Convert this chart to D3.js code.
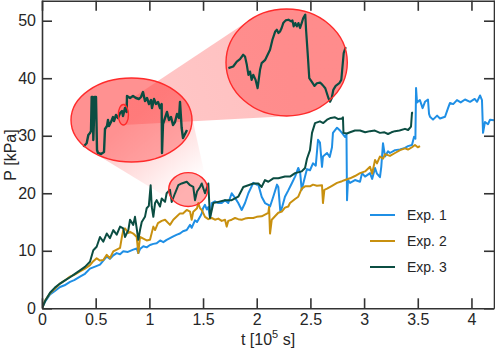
<!DOCTYPE html>
<html><head><meta charset="utf-8">
<script src="https://cdn.jsdelivr.net/npm/d3@7"></script>
<style>
body{margin:0;background:#fff}
text{font-family:"Liberation Sans",Arial,sans-serif;fill:#262626}
</style>
</head><body>
<svg id="c" width="495" height="350"></svg>
<script>
// ---------------- data ----------------
const xTicks = [0, 0.5, 1, 1.5, 2, 2.5, 3, 3.5, 4];
const xTickLabels = ["0", "0.5", "1", "1.5", "2", "2.5", "3", "3.5", "4"];
const yTicks = [0, 10, 20, 30, 40, 50];
const yTickLabels = ["0", "10", "20", "30", "40", "50"];
const seriesNames = ["Exp. 1", "Exp. 2", "Exp. 3"];
const seriesColors = ["#1f8fe5", "#c8900f", "#0b4d42"];

// [t (10^5 s), P (kPa)]
const exp1 = [[0,0],[0.03,1.2],[0.075,2.4],[0.12,3.0],[0.168,3.7],[0.21,4.0],[0.261,4.6],[0.30,4.9],[0.354,5.5],[0.40,6.0],[0.447,6.9],[0.50,7.3],[0.54,7.6],[0.571,8.3],[0.603,9.0],[0.633,8.6],[0.664,9.2],[0.696,9.6],[0.727,9.4],[0.757,9.9],[0.80,9.8],[0.85,10.2],[0.882,10.4],[0.897,9.6],[0.913,10.3],[0.944,10.8],[0.975,10.6],[1.006,11.0],[1.037,11.2],[1.068,11.3],[1.10,11.8],[1.13,11.5],[1.161,11.9],[1.192,12.2],[1.223,12.5],[1.257,12.8],[1.285,13.0],[1.313,13.4],[1.348,13.6],[1.379,14.5],[1.394,14.0],[1.425,15.3],[1.444,15.0],[1.472,15.9],[1.488,16.5],[1.50,17.4],[1.518,18.0],[1.535,17.2],[1.549,17.6],[1.565,15.7],[1.581,18.3],[1.611,18.6],[1.642,18.3],[1.674,18.3],[1.705,18.8],[1.735,18.3],[1.767,20.0],[1.798,19.2],[1.828,18.3],[1.86,17.1],[1.891,18.3],[1.922,20.0],[1.968,21.8],[2.0,21.5],[2.015,21.5],[2.046,19.4],[2.077,18.3],[2.108,18.0],[2.124,17.7],[2.154,19.4],[2.189,21.5],[2.201,21.1],[2.22,16.8],[2.235,17.5],[2.263,19.4],[2.294,20.5],[2.326,21.7],[2.357,22.9],[2.387,24.4],[2.405,23.5],[2.419,20.6],[2.45,22.9],[2.468,24.2],[2.496,24.0],[2.524,25.2],[2.55,24.8],[2.571,29.3],[2.589,28.8],[2.608,24.6],[2.617,26.4],[2.655,27.0],[2.68,26.3],[2.701,28.0],[2.71,30.5],[2.748,31.4],[2.776,30.9],[2.794,30.5],[2.822,29.8],[2.836,30.2],[2.841,18.8],[2.85,22.3],[2.869,21.8],[2.915,22.3],[2.962,22.0],[2.981,23.5],[3.009,22.9],[3.055,23.5],[3.075,22.5],[3.102,24.4],[3.12,23.4],[3.148,22.8],[3.16,24.6],[3.176,28.7],[3.195,26.4],[3.223,27.3],[3.241,27.0],[3.288,27.5],[3.335,27.6],[3.381,27.9],[3.409,28.2],[3.446,28.4],[3.465,29.8],[3.478,29.5],[3.484,38.3],[3.493,35.8],[3.52,36.2],[3.545,34.8],[3.567,35.9],[3.595,36.3],[3.605,33.8],[3.614,33.3],[3.642,32.8],[3.68,33.5],[3.707,33.0],[3.754,33.3],[3.782,34.8],[3.80,35.7],[3.83,35.5],[3.865,36.2],[3.90,35.8],[3.94,36.3],[3.987,35.9],[4.03,36.4],[4.052,35.9],[4.08,37.0],[4.098,36.2],[4.108,30.5],[4.126,32.4],[4.154,32.0],[4.173,32.8],[4.21,32.7]];

const exp2 = [[0,0],[0.03,1.4],[0.075,2.6],[0.12,3.4],[0.168,4.3],[0.21,4.8],[0.261,5.5],[0.30,5.8],[0.354,6.4],[0.40,6.9],[0.447,7.5],[0.478,8.2],[0.509,8.7],[0.54,8.3],[0.571,8.4],[0.603,9.3],[0.633,8.7],[0.664,9.9],[0.696,10.2],[0.727,10.5],[0.745,12.5],[0.757,13.6],[0.773,13.9],[0.804,13.1],[0.82,13.3],[0.85,13.0],[0.882,12.4],[0.897,9.6],[0.913,12.4],[0.944,12.1],[0.975,11.8],[1.006,11.9],[1.037,14.2],[1.053,13.6],[1.08,14.8],[1.115,15.2],[1.146,15.4],[1.192,14.5],[1.223,15.4],[1.257,16.0],[1.285,16.5],[1.313,16.5],[1.348,17.1],[1.379,16.8],[1.394,15.4],[1.409,16.8],[1.444,17.4],[1.456,18.3],[1.472,17.4],[1.488,17.1],[1.518,15.9],[1.549,15.5],[1.581,15.7],[1.611,15.4],[1.642,15.6],[1.674,15.2],[1.705,15.4],[1.72,14.2],[1.735,15.2],[1.767,15.4],[1.798,15.7],[1.828,15.5],[1.86,15.4],[1.891,15.6],[1.922,15.7],[1.968,15.7],[2.0,15.9],[2.046,16.0],[2.077,16.3],[2.108,16.6],[2.115,17.6],[2.124,13.0],[2.14,15.4],[2.17,16.0],[2.201,16.6],[2.233,16.8],[2.263,17.5],[2.294,17.7],[2.31,18.3],[2.357,19.0],[2.387,19.4],[2.419,20.8],[2.45,21.2],[2.496,21.2],[2.524,21.5],[2.56,21.3],[2.608,21.4],[2.617,18.3],[2.63,20.6],[2.655,20.8],[2.701,21.3],[2.748,21.8],[2.794,22.1],[2.822,22.3],[2.869,22.6],[2.915,23.0],[2.962,23.5],[3.009,23.8],[3.055,24.6],[3.075,23.4],[3.102,25.8],[3.12,25.2],[3.148,26.4],[3.176,26.0],[3.195,26.8],[3.241,26.5],[3.288,27.0],[3.335,27.5],[3.381,27.8],[3.409,27.6],[3.446,28.0],[3.474,28.4],[3.50,28.0],[3.521,28.2]];

const exp3 = [[0,0],[0.03,1.3],[0.075,2.7],[0.12,3.6],[0.168,4.3],[0.21,4.8],[0.261,5.4],[0.30,5.9],[0.354,6.6],[0.40,7.2],[0.447,8.1],[0.478,10.1],[0.509,10.7],[0.54,12.4],[0.571,11.6],[0.603,13.0],[0.633,12.2],[0.664,13.6],[0.696,12.8],[0.727,14.2],[0.757,13.9],[0.773,12.4],[0.804,13.6],[0.82,15.4],[0.85,14.5],[0.866,15.9],[0.882,13.9],[0.897,11.9],[0.913,13.6],[0.929,15.0],[0.959,15.9],[0.975,17.4],[0.995,17.8],[1.012,21.4],[1.022,17.7],[1.037,15.9],[1.053,18.3],[1.068,18.8],[1.099,17.7],[1.115,19.1],[1.146,18.5],[1.161,20.0],[1.192,20.6],[1.208,18.5],[1.239,20.0],[1.27,21.4],[1.301,21.7],[1.348,22.0],[1.379,21.4],[1.409,21.1],[1.425,18.8],[1.444,20.3],[1.472,21.1],[1.488,21.7],[1.518,20.0],[1.549,21.7],[1.565,15.7],[1.596,18.3],[1.642,18.5],[1.705,18.8],[1.767,18.8],[1.828,19.4],[1.875,21.1],[1.922,21.4],[1.968,21.7],[2.015,21.7],[2.046,21.1],[2.077,22.3],[2.108,22.0],[2.154,22.6],[2.201,22.6],[2.263,22.9],[2.31,22.9],[2.357,23.5],[2.419,23.8],[2.45,24.4],[2.468,26.0],[2.496,27.5],[2.515,30.5],[2.543,32.2],[2.589,32.5],[2.62,32.2],[2.655,32.8],[2.69,33.1],[2.729,33.2],[2.76,32.9],[2.794,33.0],[2.803,33.2],[2.808,30.5],[2.84,30.4],[2.869,30.6],[2.915,30.9],[2.962,30.9],[3.01,30.6],[3.055,30.8],[3.10,30.9],[3.148,30.5],[3.19,30.6],[3.223,30.3],[3.255,30.6],[3.288,30.8],[3.33,30.9],[3.381,31.2],[3.41,31.0],[3.437,31.6],[3.446,34.0],[3.456,34.0]];

// zoom windows (data units) and inset traces (Exp. 3, finer detail)
const zoomWindow1T = [1.18, 1.543], zoomWindow1P = [17.7, 23.58];
const zoomWindow2T = [1.322, 1.3523], zoomWindow2P = [20.29, 21.73];

const inset1 = [[1.217,18.77],[1.227,19.01],[1.232,19.59],[1.237,19.73],[1.24,19.87],[1.242,22.25],[1.245,22.25],[1.247,19.24],[1.251,22.25],[1.255,22.25],[1.258,18.54],[1.261,18.33],[1.27,18.26],[1.279,18.4],[1.282,20.01],[1.288,20.22],[1.291,20.64],[1.294,20.22],[1.30,20.5],[1.306,20.85],[1.309,20.57],[1.315,20.99],[1.321,20.78],[1.327,21.13],[1.333,21.27],[1.336,20.92],[1.342,21.48],[1.347,21.2],[1.348,22.32],[1.357,22.18],[1.366,22.32],[1.375,22.18],[1.384,22.11],[1.39,22.25],[1.396,22.6],[1.402,21.97],[1.408,22.18],[1.414,21.76],[1.42,22.04],[1.423,21.48],[1.429,22.11],[1.435,21.76],[1.441,21.9],[1.447,21.48],[1.452,21.76],[1.453,18.33],[1.456,20.36],[1.462,20.78],[1.468,21.2],[1.474,20.64],[1.48,20.85],[1.486,20.29],[1.492,20.5],[1.498,21.06],[1.504,20.78],[1.507,21.9],[1.512,20.08],[1.516,19.38],[1.522,19.66],[1.528,19.94]];

const inset2 = [[1.3226,20.934],[1.3238,20.956],[1.3247,21.023],[1.3255,21.055],[1.3263,21.114],[1.32675,21.091],[1.3272,20.979],[1.3276,20.844],[1.328,20.888],[1.3284,20.776],[1.3288,20.844],[1.3294,20.776],[1.3299,20.664],[1.3305,20.911],[1.3309,21.001],[1.3318,21.046],[1.3324,21.114],[1.333,21.181],[1.3336,21.316],[1.3343,21.428],[1.3347,21.451],[1.3351,21.406],[1.3355,21.428],[1.3359,21.474],[1.3363,21.541],[1.3369,21.577],[1.3376,21.586],[1.3383,21.563],[1.3386,21.577],[1.3389,21.496],[1.3393,21.541],[1.3397,21.496],[1.3401,21.541],[1.3405,21.474],[1.3409,21.541],[1.3413,21.609],[1.3418,21.654],[1.342,21.451],[1.3424,21.136],[1.3428,20.799],[1.3434,20.753],[1.3441,20.695],[1.3447,20.731],[1.3455,20.74],[1.3461,20.709],[1.3468,20.664],[1.3472,20.596],[1.3476,20.529],[1.348,20.483],[1.3484,20.529],[1.3488,20.641],[1.3494,20.695],[1.3503,20.731],[1.3508,20.776],[1.3511,20.956],[1.3514,21.136],[1.3519,21.217]];

// ---------------- drawing ----------------
const svg = d3.select("#c");
const L = 42, R = 494, T = 0, B = 308.3;
const x = d3.scaleLinear().domain([0, 4.21]).range([L, R]);
const y = d3.scaleLinear().domain([0, 53.6]).range([B, T]);

// inset boxes (pixel layout)
const box1 = {x0: 71, x1: 192, y0: 78, y1: 162};
const box2 = {x0: 226, x1: 347.3, y0: 9, y1: 116};
const mx = d3.scaleLinear().domain(zoomWindow1T).range([box1.x0, box1.x1]);
const my = d3.scaleLinear().domain(zoomWindow1P).range([box1.y1, box1.y0]);
const bx = d3.scaleLinear().domain(zoomWindow2T).range([box2.x0, box2.x1]);
const by = d3.scaleLinear().domain(zoomWindow2P).range([box2.y1, box2.y0]);

function ell(x0, x1, y0, y1) {
  return {cx: (x0 + x1) / 2, cy: (y0 + y1) / 2, rx: Math.abs(x1 - x0) / 2, ry: Math.abs(y1 - y0) / 2};
}
const eSmall = ell(x(zoomWindow1T[0]), x(zoomWindow1T[1]), y(zoomWindow1P[0]), y(zoomWindow1P[1]));
const eMid = ell(box1.x0, box1.x1, box1.y0, box1.y1);
const eTiny = ell(mx(zoomWindow2T[0]), mx(zoomWindow2T[1]), my(zoomWindow2P[0]), my(zoomWindow2P[1]));
const eBig = ell(box2.x0, box2.x1, box2.y0, box2.y1);

function ellPts(e) {
  return d3.range(96).map(i => {
    const a = i / 96 * 2 * Math.PI;
    return [e.cx + e.rx * Math.cos(a), e.cy + e.ry * Math.sin(a)];
  });
}
function hullPath(a, b) {
  const h = d3.polygonHull(ellPts(a).concat(ellPts(b)));
  return "M" + h.map(p => p.join(",")).join("L") + "Z";
}

const defs = svg.append("defs");
defs.append("clipPath").attr("id", "plotclip").append("rect")
  .attr("x", L).attr("y", T).attr("width", R - L).attr("height", B - T);

function grad(id, a, b, o0, o1) {
  const g = defs.append("linearGradient").attr("id", id).attr("gradientUnits", "userSpaceOnUse")
    .attr("x1", a.cx).attr("y1", a.cy).attr("x2", b.cx).attr("y2", b.cy);
  g.append("stop").attr("offset", 0).attr("stop-color", "#ff4646").attr("stop-opacity", o0);
  g.append("stop").attr("offset", 1).attr("stop-color", "#ff4646").attr("stop-opacity", o1);
}
grad("gA", eSmall, eMid, 0.0, 0.32);
grad("gB", eTiny, eBig, 0.3, 0.34);

const ellFill = "rgba(255,90,90,0.48)";
const ellStroke = "#ff2b2b";

// wedge from small main ellipse to mid inset
svg.append("path").attr("d", hullPath(eSmall, eMid)).attr("fill", "url(#gA)");
// small ellipse fill
svg.append("ellipse").attr("cx", eSmall.cx).attr("cy", eSmall.cy).attr("rx", eSmall.rx).attr("ry", eSmall.ry)
  .attr("fill", ellFill);

// main lines
const line = d3.line().x(d => x(d[0])).y(d => y(d[1]));
const plot = svg.append("g").attr("clip-path", "url(#plotclip)");
[exp1, exp2, exp3].forEach((s, i) => {
  plot.append("path").attr("d", line(s)).attr("fill", "none")
    .attr("stroke", seriesColors[i]).attr("stroke-width", 2).attr("stroke-linejoin", "round");
});
svg.append("ellipse").attr("cx", eSmall.cx).attr("cy", eSmall.cy).attr("rx", eSmall.rx).attr("ry", eSmall.ry)
  .attr("fill", "none").attr("stroke", ellStroke).attr("stroke-width", 1.4);

// axes (box with inward ticks)
function styleAxis(g) {
  g.attr("font-family", "Liberation Sans, Arial, sans-serif").attr("font-size", 16);
  g.select(".domain").attr("stroke", "#333").attr("stroke-width", 1.6);
  g.selectAll(".tick line").attr("stroke", "#333").attr("stroke-width", 1.6);
  g.selectAll(".tick text").attr("fill", "#262626");
}
svg.append("g").attr("transform", `translate(0,${B})`)
  .call(d3.axisBottom(x).tickValues(xTicks).tickFormat((d, i) => xTickLabels[i]).tickSize(-10).tickSizeOuter(0).tickPadding(5))
  .call(styleAxis);
svg.append("g").attr("transform", `translate(0,${T + 0.8})`)
  .call(d3.axisTop(x).tickValues(xTicks).tickFormat("").tickSize(-10).tickSizeOuter(0))
  .call(styleAxis);
svg.append("g").attr("transform", `translate(${L},0)`)
  .call(d3.axisLeft(y).tickValues(yTicks).tickFormat((d, i) => yTickLabels[i]).tickSize(-10).tickSizeOuter(0).tickPadding(6))
  .call(styleAxis);
svg.append("g").attr("transform", `translate(${R},0)`)
  .call(d3.axisRight(y).tickValues(yTicks).tickFormat("").tickSize(-10).tickSizeOuter(0))
  .call(styleAxis);

// axis labels
svg.append("text").attr("transform", "translate(16,155) rotate(-90)").attr("text-anchor", "middle")
  .attr("font-size", 16).text("P [kPa]");
const xl = svg.append("text").attr("x", 268).attr("y", 345).attr("text-anchor", "middle").attr("font-size", 16);
xl.append("tspan").text("t [10");
xl.append("tspan").attr("font-size", 11).attr("dy", -7).text("5");
xl.append("tspan").attr("dy", 7).text(" s]");

// insets
svg.append("ellipse").attr("cx", eMid.cx).attr("cy", eMid.cy).attr("rx", eMid.rx).attr("ry", eMid.ry).attr("fill", ellFill);
svg.append("ellipse").attr("cx", eBig.cx).attr("cy", eBig.cy).attr("rx", eBig.rx).attr("ry", eBig.ry).attr("fill", ellFill);
svg.append("path").attr("d", hullPath(eTiny, eBig)).attr("fill", "url(#gB)");

const l1 = d3.line().x(d => mx(d[0])).y(d => my(d[1]));
const l2 = d3.line().x(d => bx(d[0])).y(d => by(d[1]));
svg.append("path").attr("d", l1(inset1)).attr("fill", "none").attr("stroke", seriesColors[2])
  .attr("stroke-width", 2.4).attr("stroke-linejoin", "round");
svg.append("path").attr("d", l2(inset2)).attr("fill", "none").attr("stroke", seriesColors[2])
  .attr("stroke-width", 2.2).attr("stroke-linejoin", "round");

[eTiny, eMid, eBig].forEach(e => {
  svg.append("ellipse").attr("cx", e.cx).attr("cy", e.cy).attr("rx", e.rx).attr("ry", e.ry)
    .attr("fill", "none").attr("stroke", ellStroke).attr("stroke-width", 1.4);
});

// legend
const legY = [215, 241, 267];
seriesNames.forEach((n, i) => {
  svg.append("line").attr("x1", 370).attr("x2", 395).attr("y1", legY[i]).attr("y2", legY[i])
    .attr("stroke", seriesColors[i]).attr("stroke-width", 2);
  svg.append("text").attr("x", 407).attr("y", legY[i]).attr("dy", "0.36em").attr("font-size", 14).text(n);
});
</script>
</body></html>
